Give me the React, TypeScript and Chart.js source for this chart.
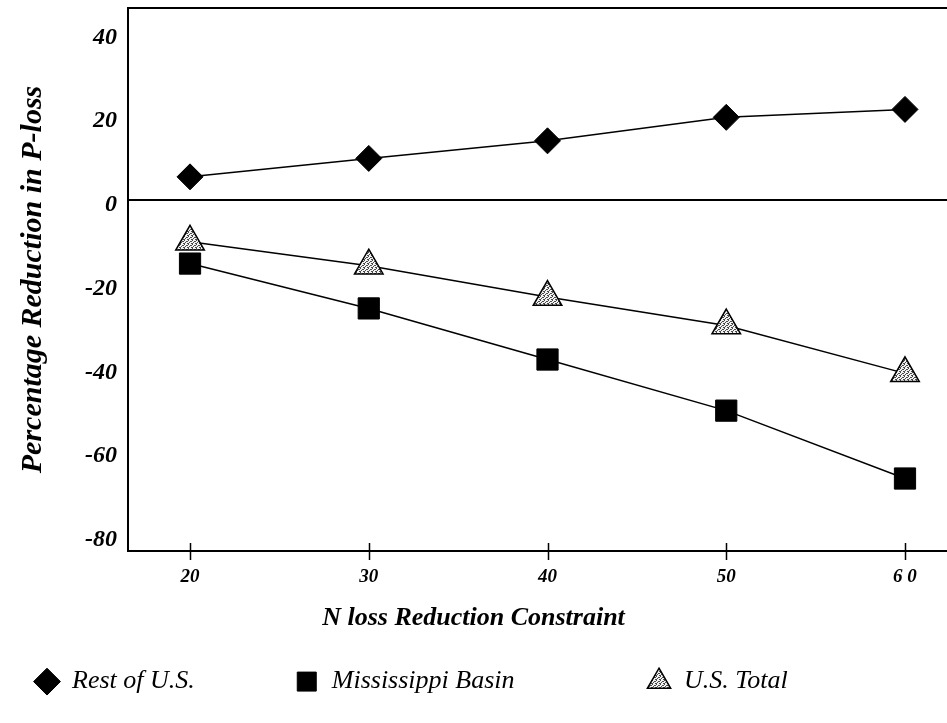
import React, { useEffect, useRef } from 'react';
import { Chart, registerables } from 'chart.js';

Chart.register(...registerables);

// ---- data ----
const nLossConstraint = [20, 30, 40, 50, 60];
const restOfUS = [5.5, 9.9, 14.1, 19.7, 21.6];
const mississippiBasin = [-15.2, -25.9, -38.1, -50.3, -66.5];
const usTotal = [-10.0, -15.7, -23.2, -30.0, -41.4];
const seriesNames = ['Rest of U.S.', 'Mississippi Basin', 'U.S. Total'];
const xTickValues = [20, 30, 40, 50, 60];
const xTickLabels = ['20', '30', '40', '50', '6 0'];
const yTickValues = [-80, -60, -40, -20, 0, 20, 40];

const FAMILY = '"Liberation Serif", "DejaVu Serif", serif';
const legendGapSpaces = [10, 15, 0];

function makeStipple(): CanvasPattern | string {
  const c = document.createElement('canvas');
  c.width = 4;
  c.height = 4;
  const g = c.getContext('2d');
  if (!g) return '#ccc';
  g.fillStyle = '#f2f2f2';
  g.fillRect(0, 0, 4, 4);
  g.fillStyle = '#4a4a4a';
  g.fillRect(0, 0, 1, 1);
  g.fillRect(2, 1, 1, 1);
  g.fillRect(1, 2, 1, 1);
  g.fillRect(3, 3, 1, 1);
  g.fillRect(3, 1, 1, 1);
  g.fillRect(0, 3, 1, 1);
  const p = g.createPattern(c, 'repeat');
  return p || '#ccc';
}

const framePlugin = {
  id: 'frame',
  afterDraw(chart: any) {
    const { ctx, chartArea: a, scales } = chart;
    ctx.save();
    ctx.strokeStyle = '#000';
    ctx.lineWidth = 2;
    ctx.beginPath();
    ctx.moveTo(a.left, a.top);
    ctx.lineTo(a.right, a.top);
    ctx.stroke();
    ctx.lineWidth = 1.5;
    ctx.beginPath();
    scales.x.ticks.forEach((t: any) => {
      const px = Math.round(scales.x.getPixelForValue(t.value)) + 0.5;
      ctx.moveTo(px, a.bottom - 8);
      ctx.lineTo(px, a.bottom + 9);
    });
    ctx.stroke();
    ctx.restore();
  },
};

export default function App() {
  const ref = useRef<HTMLCanvasElement | null>(null);

  useEffect(() => {
    if (!ref.current) return;
    document.body.style.margin = '0';
    const stipple = makeStipple();
    const toPts = (ys: number[]) => nLossConstraint.map((x, i) => ({ x, y: ys[i] }));

    const chart = new Chart(ref.current, {
      type: 'line',
      data: {
        datasets: [
          {
            label: seriesNames[0],
            data: toPts(restOfUS),
            borderColor: '#000',
            borderWidth: 1.5,
            pointStyle: 'rectRot',
            pointRadius: 13,
            pointHoverRadius: 13,
            pointBackgroundColor: '#000',
            pointBorderColor: '#000',
            pointBorderWidth: 1,
            fill: false,
            tension: 0,
          },
          {
            label: seriesNames[1],
            data: toPts(mississippiBasin),
            borderColor: '#000',
            borderWidth: 1.5,
            pointStyle: 'rect',
            pointRadius: 15,
            pointHoverRadius: 15,
            pointBackgroundColor: '#000',
            pointBorderColor: '#000',
            pointBorderWidth: 1,
            fill: false,
            tension: 0,
          },
          {
            label: seriesNames[2],
            data: toPts(usTotal),
            borderColor: '#000',
            borderWidth: 1.5,
            pointStyle: 'triangle',
            pointRadius: 16.5,
            pointHoverRadius: 16.5,
            pointBackgroundColor: stipple as any,
            pointBorderColor: '#000',
            pointBorderWidth: 1.5,
            fill: false,
            tension: 0,
          },
        ],
      },
      options: {
        responsive: false,
        animation: false,
        events: [],
        layout: { autoPadding: false, padding: { top: 8, left: 0, right: 0, bottom: 18.4 } },
        scales: {
          x: {
            type: 'linear',
            min: 16.53,
            max: 62.35,
            afterBuildTicks: (s: any) => {
              s.ticks = xTickValues.map((v) => ({ value: v }));
            },
            afterFit: (s: any) => {
              s.paddingLeft = 0;
              s.paddingRight = 0;
              s.height = 37.8;
            },
            ticks: {
              padding: 15,
              color: '#000',
              font: { family: FAMILY, size: 19, style: 'italic', weight: 'bold' },
              callback: (_v: any, i: number) => xTickLabels[i],
            },
            grid: { display: false, drawTicks: false },
            border: { display: true, color: '#000', width: 2 },
          },
          y: {
            type: 'linear',
            min: -83.8,
            max: 45.8,
            afterBuildTicks: (s: any) => {
              s.ticks = yTickValues.map((v) => ({ value: v }));
            },
            afterFit: (s: any) => {
              s.width = 128;
              s.paddingTop = 0;
              s.paddingBottom = 0;
            },
            ticks: {
              padding: 11,
              labelOffset: 5,
              color: '#000',
              font: { family: FAMILY, size: 24, style: 'italic', weight: 'bold' },
              callback: (v: any) => String(v),
            },
            grid: {
              drawTicks: false,
              color: (c: any) => (c.tick && c.tick.value === 0 ? '#000' : 'rgba(0,0,0,0)'),
              lineWidth: 2,
            },
            border: { display: true, color: '#000', width: 2 },
            title: {
              display: true,
              text: 'Percentage Reduction in P-loss',
              color: '#000',
              font: { family: FAMILY, size: 30, style: 'italic', weight: 'bold' },
              padding: { top: 15, bottom: 0 },
            },
          },
        },
        plugins: {
          tooltip: { enabled: false },
          title: {
            display: true,
            text: 'N loss Reduction Constraint',
            position: 'bottom',
            weight: 500,
            color: '#000',
            font: { family: FAMILY, size: 26, style: 'italic', weight: 'bold' },
            padding: { top: 13.6, bottom: 0 },
          },
          legend: {
            position: 'bottom',
            align: 'start',
            weight: 1000,
            labels: {
              usePointStyle: true,
              boxWidth: 24,
              boxHeight: 19,
              padding: 35,
              color: '#000',
              font: { family: FAMILY, size: 26, style: 'italic' },
              generateLabels: (ch: any) => {
                const items = (Chart.defaults.plugins.legend.labels as any).generateLabels(ch);
                items.forEach((it: any, i: number) => {
                  it.text = it.text + ' '.repeat(legendGapSpaces[i] || 0);
                });
                return items;
              },
            },
          },
        },
      },
      plugins: [framePlugin],
    } as any);

    return () => chart.destroy();
  }, []);

  return (
    <div style={{ position: 'fixed', left: 0, top: 0, width: 947, height: 723, background: '#fff' }}>
      <canvas ref={ref} width={947} height={723} style={{ display: 'block', width: 947, height: 723 }} />
    </div>
  );
}
